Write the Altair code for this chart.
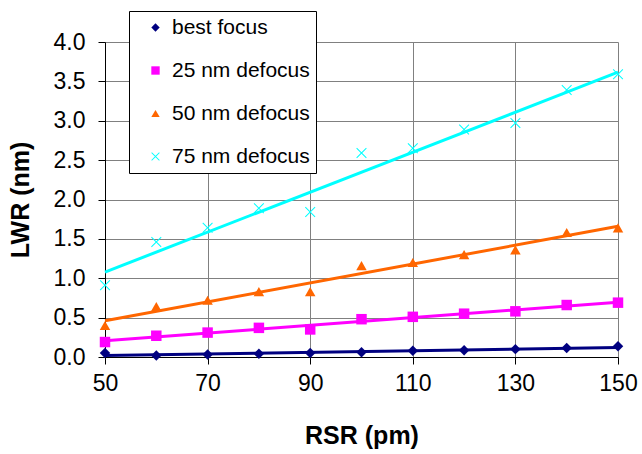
import altair as alt
import pandas as pd

rsr = [50, 60, 70, 80, 90, 100, 110, 120, 130, 140, 150]
best_focus = [0.05, 0.02, 0.033, 0.04, 0.05, 0.06, 0.08, 0.085, 0.10, 0.115, 0.135]
defocus_25 = [0.19, 0.27, 0.31, 0.37, 0.35, 0.48, 0.51, 0.55, 0.58, 0.66, 0.69]
defocus_50 = [0.40, 0.64, 0.72, 0.83, 0.83, 1.16, 1.20, 1.30, 1.36, 1.58, 1.64]
defocus_75 = [0.91, 1.46, 1.64, 1.89, 1.84, 2.59, 2.65, 2.89, 2.97, 3.39, 3.59]

series_names = ["best focus", "25 nm defocus", "50 nm defocus", "75 nm defocus"]
series_colors = ["#000080", "#FF00FF", "#FF6600", "#00FFFF"]
# thin filled "x" drawn as two narrow bars
x_shape = "M-1,-0.86L0.86,1L1,0.86L-0.86,-1ZM-1,0.86L-0.86,1L1,-0.86L0.86,-1Z"
series_shapes = ["diamond", "square", "triangle-up", x_shape]
x_ticks = [50, 70, 90, 110, 130, 150]
y_ticks = [0.0, 0.5, 1.0, 1.5, 2.0, 2.5, 3.0, 3.5, 4.0]

rows = []
for name, vals in zip(series_names, [best_focus, defocus_25, defocus_50, defocus_75]):
    for xv, yv in zip(rsr, vals):
        rows.append({"RSR": xv, "LWR": yv, "series": name})
df = pd.DataFrame(rows)

x_enc = alt.X("RSR:Q", title="RSR (pm)",
              scale=alt.Scale(domain=[50, 150], nice=False),
              axis=alt.Axis(values=x_ticks, labelPadding=8, titlePadding=28, labelFlush=False))
y_enc = alt.Y("LWR:Q", title="LWR (nm)",
              scale=alt.Scale(domain=[0, 4], nice=False),
              axis=alt.Axis(values=y_ticks, format=".1f", labelPadding=13, titlePadding=20, labelFlush=False))

base = alt.Chart(df)

line_layers = []
for name, col in zip(series_names, series_colors):
    line_layers.append(
        base.transform_filter(alt.datum.series == name)
        .transform_regression("RSR", "LWR", extent=[50, 150])
        .mark_line(strokeWidth=3, color=col)
        .encode(x=x_enc, y=y_enc)
    )

legend = alt.Legend(
    title=None, orient="none", legendX=24, legendY=-31,
    fillColor="white", strokeColor="black", padding=6,
    labelFontSize=21, labelFont="Liberation Sans", labelColor="black",
    rowPadding=21, symbolSize=70, symbolOffset=10, labelOffset=6,
    symbolStrokeWidth=0, labelLimit=300, symbolOpacity=1,
)

points = base.mark_point(filled=True, size=110, opacity=1).encode(
    x=x_enc, y=y_enc,
    color=alt.Color("series:N", scale=alt.Scale(domain=series_names, range=series_colors), legend=legend),
    shape=alt.Shape("series:N", scale=alt.Scale(domain=series_names, range=series_shapes), legend=legend),
)

chart = alt.layer(*line_layers, points).properties(
    width=513, height=315,
    padding={"left": 105, "top": 42, "right": 24, "bottom": 97},
    autosize="none",
    background="white",
).configure_view(strokeWidth=0).configure_axis(
    gridColor="#808080", gridWidth=1, gridOpacity=1,
    domainColor="black", domainWidth=1, tickColor="black", tickSize=7,
    labelFont="Liberation Sans", labelFontSize=23, labelColor="black",
    titleFont="Liberation Sans", titleFontSize=25, titleFontWeight="bold", titleColor="black",
)

chart.save("out.html", embed_options={"renderer": "svg", "actions": False})
